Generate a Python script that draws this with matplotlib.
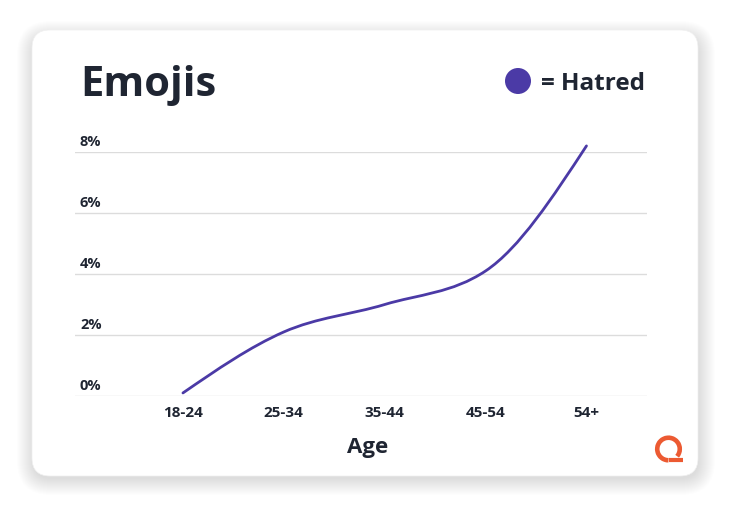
import numpy as np
import matplotlib
matplotlib.use("Agg")
import matplotlib.pyplot as plt
import matplotlib.transforms as mtransforms
from matplotlib.path import Path
from matplotlib.patches import PathPatch, FancyBboxPatch, Circle, Arc

# ---------------- data ----------------
categories = ["18-24", "25-34", "35-44", "45-54", "54+"]
hatred = [0.1, 2.1, 3.0, 4.1, 8.2]
y_ticks = [0, 2, 4, 6, 8]
y_tick_labels = ["0%", "2%", "4%", "6%", "8%"]
title = "Emojis"
series_name = "Hatred"
x_label = "Age"

# ---------------- style ----------------
FONT = ["Open Sans", "DejaVu Sans"]
plt.rcParams["font.family"] = FONT
TEXT = "#1f2532"
LINE = "#4b3aa6"
GRID = "#dcdcdc"
ORANGE = "#ec5a32"

W, H = 730, 522
fig = plt.figure(figsize=(W / 100, H / 100), dpi=100)
fig.patch.set_facecolor("white")

# pixel-space background axes
bg = fig.add_axes([0, 0, 1, 1])
bg.set_xlim(0, W)
bg.set_ylim(H, 0)
bg.axis("off")

cx0, cy0, cx1, cy1 = 32, 30, 698, 476
rad = 18
# soft shadow layers
for i in range(17):
    g = i * 1.0
    bg.add_patch(FancyBboxPatch((cx0 - g + 1, cy0 - g + 7), (cx1 - cx0) + 2 * g, (cy1 - cy0) + 2 * g - 4,
                                boxstyle=f"round,pad=0,rounding_size={rad + g}",
                                facecolor="black", edgecolor="none", alpha=0.008, zorder=1))
bg.add_patch(FancyBboxPatch((cx0, cy0), cx1 - cx0, cy1 - cy0,
                            boxstyle=f"round,pad=0,rounding_size={rad}",
                            facecolor="white", edgecolor="#f0f0f0", lw=0.5, zorder=2))

# title and legend
bg.text(80, 96, title, fontsize=30, fontweight="bold", color=TEXT, ha="left", va="baseline", zorder=3)
bg.add_patch(Circle((518, 81), 13, facecolor=LINE, edgecolor="none", zorder=3))
bg.text(541, 90, "= " + series_name, fontsize=17.5, fontweight="bold", color=TEXT,
        ha="left", va="baseline", zorder=3)
bg.text(368, 453, x_label, fontsize=16, fontweight="bold", color=TEXT, ha="center", va="baseline", zorder=3)

# logo
bg.add_patch(Arc((668.5, 449), 22.5, 22.5, theta1=90, theta2=400, lw=3.3, color=ORANGE, zorder=3))
bg.plot([668.5, 683], [460.3, 460.3], color=ORANGE, lw=3.0, solid_capstyle="butt", zorder=3)

# ---------------- main axes ----------------
ax_l, ax_r, ax_t, ax_b = 75, 647, 152, 396
ax = fig.add_axes([ax_l / W, 1 - ax_b / H, (ax_r - ax_l) / W, (ax_b - ax_t) / H])
ax.patch.set_alpha(0)
ax.set_ylim(0, 8)
ax.set_xlim(-1.07, 4.6)
for s in ax.spines.values():
    s.set_visible(False)
ax.set_yticks([])
ax.set_xticks(range(len(categories)), categories)
ax.tick_params(axis="x", length=0, pad=7, labelsize=11, labelcolor=TEXT)
for lab in ax.get_xticklabels():
    lab.set_fontweight("bold")

for v, lab in zip(y_ticks, y_tick_labels):
    ax.axhline(v, color=GRID, lw=1, zorder=1)
    tr = ax.get_yaxis_transform() + mtransforms.ScaledTranslation(0, 2 / 72, fig.dpi_scale_trans)
    ax.text((80 - ax_l) / (ax_r - ax_l), v, lab, transform=tr, fontsize=10.5, fontweight="bold",
            color=TEXT, ha="left", va="bottom")

# monotone-x smooth curve as bezier path
x = np.arange(len(categories), dtype=float)
y = np.array(hatred, dtype=float)
n = len(x)
s = np.diff(y) / np.diff(x)
m = np.zeros(n)
for i in range(1, n - 1):
    h0, h1 = x[i] - x[i - 1], x[i + 1] - x[i]
    p = (s[i - 1] * h1 + s[i] * h0) / (h0 + h1)
    m[i] = (np.sign(s[i - 1]) + np.sign(s[i])) * min(abs(s[i - 1]), abs(s[i]), 0.5 * abs(p))
m[0] = (3 * s[0] - m[1]) / 2
m[-1] = (3 * s[-1] - m[-2]) / 2
verts = [(x[0], y[0])]
codes = [Path.MOVETO]
for i in range(n - 1):
    h = (x[i + 1] - x[i]) / 3
    verts += [(x[i] + h, y[i] + m[i] * h), (x[i + 1] - h, y[i + 1] - m[i + 1] * h), (x[i + 1], y[i + 1])]
    codes += [Path.CURVE4] * 3
ax.add_patch(PathPatch(Path(verts, codes), facecolor="none", edgecolor=LINE, lw=2.0,
                       capstyle="round", clip_on=False, zorder=3))

fig.savefig("out.png", dpi=100, facecolor="white")
